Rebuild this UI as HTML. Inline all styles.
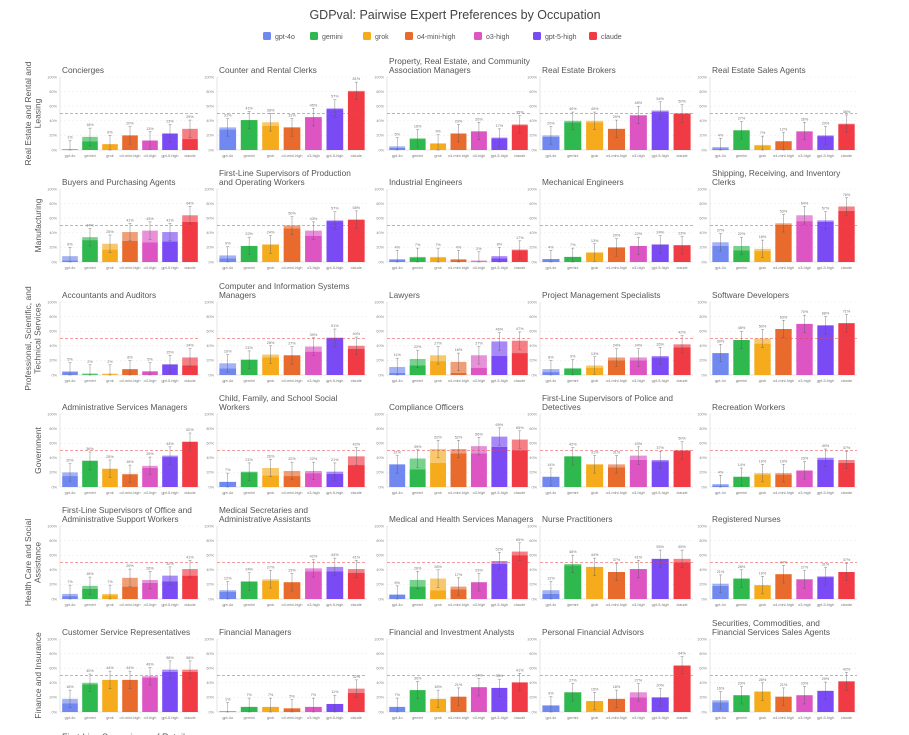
<!DOCTYPE html>
<html><head><meta charset="utf-8">
<style>
html,body{margin:0;padding:0;background:#fff;}
svg{display:block;font-family:"Liberation Sans",Arial,sans-serif;}
</style></head>
<body>
<svg id="c" width="909" height="735" viewBox="0 0 909 735">
<text x="455" y="19" text-anchor="middle" font-size="12.5" fill="#444">GDPval: Pairwise Expert Preferences by Occupation</text>
<g id="legend"></g>
<g id="panels"></g>
<text x="62" y="740" font-size="9" fill="#555">First-Line Supervisors of Retail</text>
</svg>
<script>
const models = ["gpt-4o","gemini","grok","o4-mini-high","o3-high","gpt-5-high","claude"];
const colors = ["#7088f0","#2fb84e","#f5ab1c","#e86a2c","#dc55c3","#7a4af4","#f03a44"];
const sectors = ["Real Estate and Rental and\nLeasing","Manufacturing","Professional, Scientific, and\nTechnical Services","Government","Health Care and Social\nAssistance","Finance and Insurance"];
const titles = [
 ["Concierges","Counter and Rental Clerks","Property, Real Estate, and Community\nAssociation Managers","Real Estate Brokers","Real Estate Sales Agents"],
 ["Buyers and Purchasing Agents","First-Line Supervisors of Production\nand Operating Workers","Industrial Engineers","Mechanical Engineers","Shipping, Receiving, and Inventory\nClerks"],
 ["Accountants and Auditors","Computer and Information Systems\nManagers","Lawyers","Project Management Specialists","Software Developers"],
 ["Administrative Services Managers","Child, Family, and School Social\nWorkers","Compliance Officers","First-Line Supervisors of Police and\nDetectives","Recreation Workers"],
 ["First-Line Supervisors of Office and\nAdministrative Support Workers","Medical Secretaries and\nAdministrative Assistants","Medical and Health Services Managers","Nurse Practitioners","Registered Nurses"],
 ["Customer Service Representatives","Financial Managers","Financial and Investment Analysts","Personal Financial Advisors","Securities, Commodities, and\nFinancial Services Sales Agents"]
];
const totals = [
 [[1,18,8,20,13,23,29],[31,41,38,31,45,57,81],[5,16,9,23,26,17,35],[20,40,40,29,48,54,50],[4,27,7,12,26,20,36]],
 [[8,34,25,41,43,41,64],[9,22,24,50,43,57,58],[4,7,7,4,2,8,17],[4,7,13,20,22,24,23],[27,22,18,53,64,57,76]],
 [[5,2,2,8,5,15,24],[16,21,28,27,39,51,40],[11,22,27,18,27,46,47],[8,9,13,24,24,26,42],[30,48,50,63,70,68,71]],
 [[20,36,25,18,29,43,62],[7,21,26,22,22,21,42],[31,39,52,52,56,69,65],[14,42,31,31,43,37,50],[4,14,19,19,23,40,37]],
 [[7,18,7,29,26,32,41],[12,24,27,23,42,44,41],[6,26,28,17,23,52,65],[12,48,44,37,41,55,55],[21,28,19,34,27,31,37]],
 [[18,40,44,44,49,58,58],[1,7,7,5,7,11,32],[7,30,18,21,34,33,41],[9,27,15,18,27,20,64],[16,23,28,21,23,29,42]]
];
const wins = [
 [[1,12,8,20,13,22,15],[28,41,33,31,45,56,80],[3,15,9,22,25,16,34],[18,38,38,29,47,52,50],[2,27,6,12,25,19,35]],
 [[2,30,17,29,27,28,55],[5,22,24,46,36,56,58],[3,6,6,3,1,5,16],[4,7,13,20,22,24,23],[22,16,15,51,56,55,70]],
 [[4,1,1,8,5,14,13],[9,21,24,27,32,51,36],[3,13,19,3,10,26,30],[4,9,10,20,20,24,38],[30,48,43,63,70,68,71]],
 [[15,36,25,17,26,41,62],[7,20,16,15,19,18,30],[31,24,33,46,46,55,50],[14,42,31,27,37,35,50],[2,14,17,17,22,37,33]],
 [[4,14,5,17,22,24,32],[10,24,25,23,38,38,36],[6,17,12,13,23,48,60],[7,46,44,37,41,55,50],[18,28,19,34,27,30,37]],
 [[12,38,44,44,47,55,55],[1,7,7,5,7,11,26],[7,30,18,21,34,33,40],[9,27,15,18,20,20,63],[13,23,28,21,23,29,42]]
];
const ticks = [0,20,40,60,80,100];
const errHalf = 12;
const colX = [60,217,387,540,710];
const colW = [140,150,143,153,147];
const rowZero = [150,262,375,487,599,712];
const plotH = 73;
const NS = "http://www.w3.org/2000/svg";
function mk(tag, attrs, parent, text){
  const e = document.createElementNS(NS, tag);
  for (const k in attrs) e.setAttribute(k, attrs[k]);
  if (text !== undefined) e.textContent = text;
  parent.appendChild(e);
  return e;
}
const lg = document.getElementById('legend');
const legX = [263,310,363,405,474,533,589];
models.forEach((m,i)=>{
  const g = mk('g',{},lg);
  
  
  mk('rect',{x:legX[i],y:32,width:8,height:8,rx:1.5,fill:colors[i]},g);
  mk('text',{x:legX[i]+12,y:39,'font-size':7,fill:'#555'},g,m);
});
const root = document.getElementById('panels');
sectors.forEach((s,r)=>{
  const cy = rowZero[r]-plotH/2;
  const lines = s.split('\n');
  const g = mk('g',{transform:`translate(${lines.length>1?31:41},${cy}) rotate(-90)`},root);
  
  
  lines.forEach((ln,k)=>{
    mk('text',{x:0,y:k*9.5,'text-anchor':'middle','font-size':8.5,fill:'#555'},g,ln);
  });
});
for (let r=0;r<6;r++){
  for (let c=0;c<5;c++){
    const x0 = colX[c], w = colW[c], z = rowZero[r];
    const ys = v => z - v/100*plotH;
    const g = mk('g',{},root);
    
    
    const tl = titles[r][c].split('\n');
    tl.forEach((ln,k)=>{
      const t = mk('text',{x:x0+2,y:z-plotH-4-(tl.length-1-k)*9,'font-size':8.3,fill:'#555'},g,ln);
      
      
    });
    ticks.forEach(t=>{
      const y = ys(t);
      if (t>0) mk('line',{x1:x0,x2:x0+w,y1:y,y2:y,stroke:'#eee','stroke-width':0.6,'stroke-dasharray':'2,2'},g);
      const tt = mk('text',{x:x0-3,y:y+1.3,'text-anchor':'end','font-size':3.8,fill:'#888'},g,t+'%');
      
      
    });
    mk('line',{x1:x0,x2:x0,y1:ys(100),y2:z,stroke:'#ddd','stroke-width':0.8},g);
    mk('line',{x1:x0,x2:x0+w,y1:z,y2:z,stroke:'#ddd','stroke-width':0.8},g);
    const slot = w/7, bw = slot*0.78;
    totals[r][c].forEach((v,i)=>{
      const cx = x0 + slot*(i+0.5);
      const wv = Math.min(wins[r][c][i], v);
      const light = mk('rect',{x:cx-bw/2,y:ys(v),width:bw,height:Math.max(0,(v-wv)/100*plotH),fill:colors[i],opacity:0.65},g);
      
      
      const solid = mk('rect',{x:cx-bw/2,y:ys(wv),width:bw,height:wv/100*plotH,fill:colors[i]},g);
      
      
      const lo = Math.max(0,v-errHalf), hi = Math.min(100,v+errHalf);
      mk('line',{x1:cx,x2:cx,y1:ys(lo),y2:ys(hi),stroke:'#555','stroke-width':0.5,opacity:0.7},g);
      mk('line',{x1:cx-1.5,x2:cx+1.5,y1:ys(hi),y2:ys(hi),stroke:'#555','stroke-width':0.5,opacity:0.7},g);
      mk('line',{x1:cx-1.5,x2:cx+1.5,y1:ys(lo),y2:ys(lo),stroke:'#555','stroke-width':0.5,opacity:0.7},g);
      const vl = mk('text',{x:cx,y:ys(hi)-2,'text-anchor':'middle','font-size':3.8,fill:'#777'},g,v+'%');
      
      
      const xl = mk('text',{x:cx,y:z+7,'text-anchor':'middle','font-size':3.8,fill:'#777'},g,models[i]);
      
      
    });
    const ref = mk('line',{x1:x0,x2:x0+w,y1:ys(50),y2:ys(50),stroke:'#e8484e','stroke-width':0.8,'stroke-dasharray':'3,2',opacity:0.7},g);
    
    
  }
}
</script>
</body></html>
